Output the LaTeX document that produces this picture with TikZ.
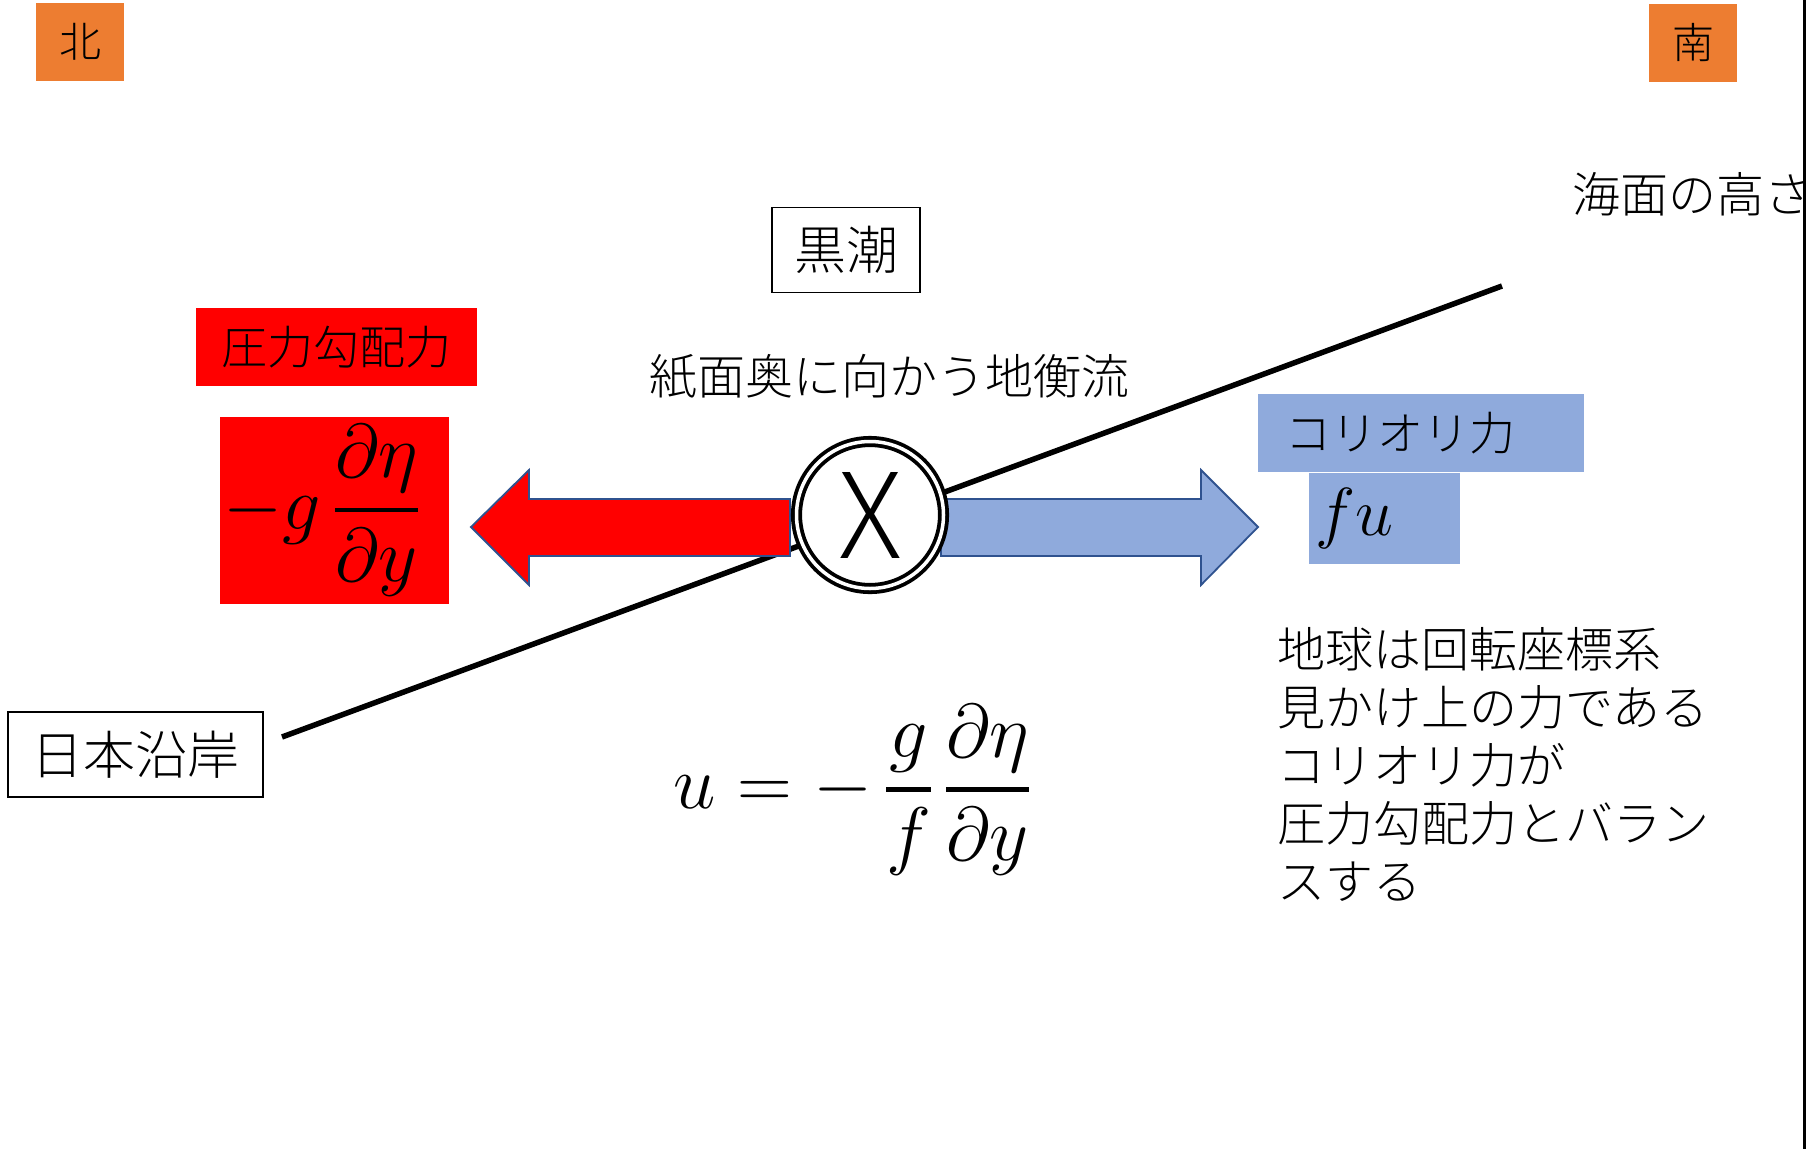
\RequirePackage{fix-cm}
\documentclass[tikz,border=0pt]{standalone}
\usepackage{fontspec}
\usepackage{amsmath}
\IfFontExistsTF{Noto Sans CJK JP Light}
  {\newfontfamily\jpfont{Noto Sans CJK JP Light}}
  {\newfontfamily\jpfont{Noto Sans CJK JP}}
\usetikzlibrary{positioning}

\definecolor{hoi}{HTML}{ED7D31}
\definecolor{coriolis}{HTML}{8FAADC}
\definecolor{waku}{HTML}{2F528F}

% 太い分数線
\newcommand{\bunsuu}[2]{\genfrac{}{}{4.5pt}{0}{#1}{#2}}

\tikzset{
  jp/.style={font=\jpfont\fontsize{48}{58}\selectfont, inner sep=0pt},
  hoibox/.style={fill=hoi, minimum width=88, minimum height=78, inner sep=0pt,
    font=\jpfont\fontsize{42}{50}\selectfont},
  wakubox/.style={draw, line width=1.6, inner sep=0pt, minimum height=85,
    font=\jpfont\fontsize{52}{60}\selectfont},
  akabox/.style={fill=red, inner sep=0pt},
  aobox/.style={fill=coriolis, inner sep=0pt},
  suushiki/.style={font=\fontsize{76}{90}\selectfont, inner sep=0pt},
  yajirushi/.style={draw=waku, line width=1.8},
}

\begin{document}
\begin{tikzpicture}[x=1pt,y=-1pt,line join=miter]

\fill[white] (0,0) rectangle (1813,1149);
\useasboundingbox (0,0) rectangle (1813,1149);

%---------------------------
% 方位
%---------------------------
\node[hoibox] (kita) at (80,42) {北};
\node[hoibox] (minami) at (1693,43) {南};

% 右端の線と海面の高さ
\begin{scope}
  \clip (0,0) rectangle (1804,1149);
  \node[jp, anchor=west] (kaimen) at (1572,194) {海面の高さ};
\end{scope}
\draw[line width=3] (1804,0) -- (1804,1149);

%---------------------------
% 海面の傾き
%---------------------------
\coordinate (engan) at (282,737);
\coordinate (oki) at (1502,286);
\draw[line width=5.5] (engan) -- (oki);

%---------------------------
% 力の矢印
%---------------------------
\fill[red, yajirushi] (471,527) -- (529,470) -- (529,499) -- (790,499)
  -- (790,556) -- (529,556) -- (529,585) -- cycle;
\fill[coriolis, yajirushi] (941,499) -- (1201,499) -- (1201,470) -- (1258,527)
  -- (1201,585) -- (1201,556) -- (941,556) -- cycle;

% 黒潮（紙面奥向き）
\node[circle, draw, line width=3.8, double=white, double distance=3.5,
  fill=white, minimum size=147, inner sep=0pt,
  font=\jpfont\fontsize{118}{120}\selectfont] (kuro) at (870,515) {X};

%---------------------------
% ラベル
%---------------------------
\node[wakubox, minimum width=148] (kuroshio) at (846,250) {黒潮};
\node[jp] (chikoryu) at (889,377) {紙面奥に向かう地衡流};
\node[wakubox, minimum width=255] (nihon) at (135.5,754.5) {日本沿岸};

% 圧力勾配力
\node[akabox, minimum width=281, minimum height=78, font=\jpfont\fontsize{46}{56}\selectfont]
  (atsuryoku) at (336.5,347) {圧力勾配力};
\node[akabox, suushiki, minimum width=229, minimum height=187]
  (koubai) at (334.5,510.5) {$-g\,\bunsuu{\partial\eta}{\partial y}$\hspace*{26pt}};

% コリオリ力
\node[aobox, anchor=north west, minimum height=78, text width=272,
  inner xsep=27, align=left, font=\jpfont\fontsize{46}{56}\selectfont]
  (coriolis) at (1258,394) {コリオリ力};
\node[aobox, anchor=north west, minimum width=151, minimum height=91,
  font=\fontsize{68}{80}\selectfont, text width=139, inner xsep=6, align=left]
  (fu) at ([xshift=51]coriolis.south west) {$fu$};

% 地衡流の式
\node[suushiki] (shiki) at (852,790)
  {$u=-\,\bunsuu{g}{f}\,\bunsuu{\partial\eta}{\partial y}$};

% 説明
\node[jp, anchor=north west, align=left] (setsumei) at (1277,627)
  {地球は回転座標系\\見かけ上の力である\\コリオリ力が\\圧力勾配力とバラン\\スする};

\end{tikzpicture}
\end{document}
